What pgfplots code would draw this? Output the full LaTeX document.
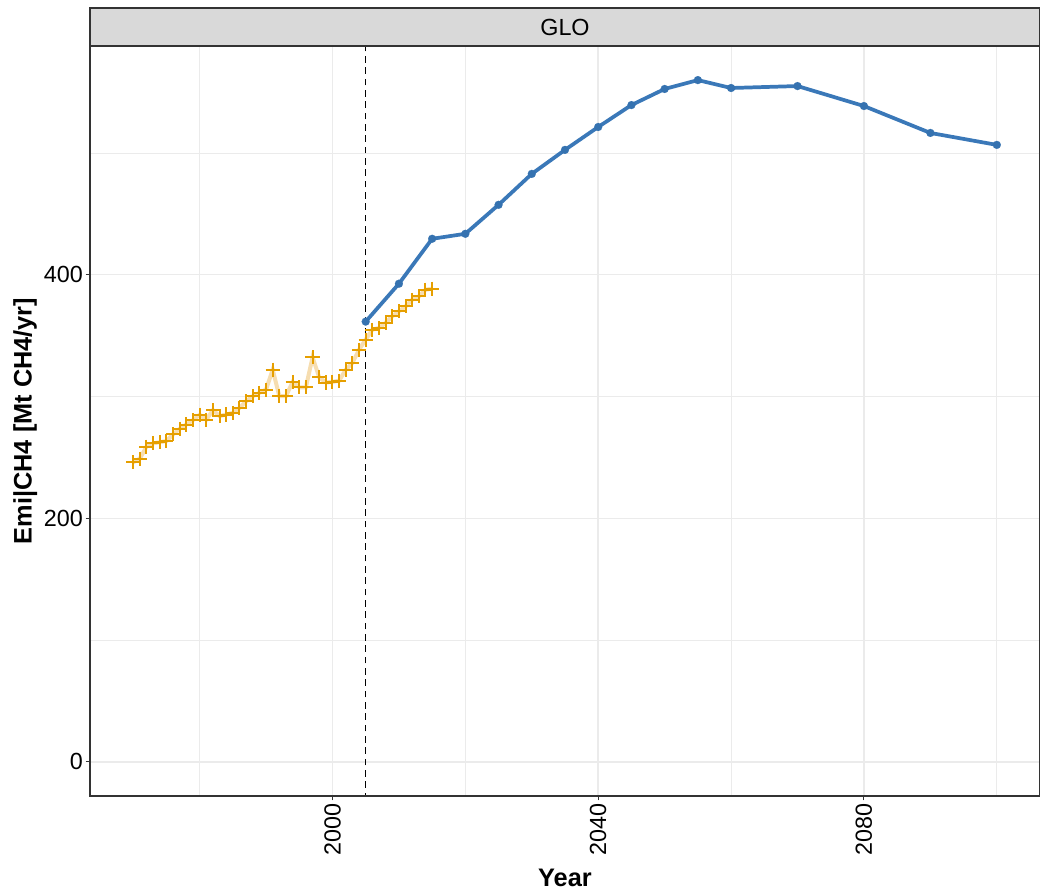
\documentclass[border=0pt]{standalone}
\usepackage{pgfplots}
\pgfplotsset{compat=1.18}
\usepackage{fontspec}
\setmainfont{Liberation Sans}
\definecolor{historange}{HTML}{E69F00}
\definecolor{histfaint}{HTML}{F6DDB0}
\definecolor{modblue}{HTML}{3A78B8}
\definecolor{modpt}{HTML}{3572B0}
\definecolor{gridgray}{HTML}{EBEBEB}
\definecolor{bordergray}{HTML}{333333}
\definecolor{stripgray}{HTML}{D9D9D9}
\begin{document}
\begin{tikzpicture}
\useasboundingbox (-67.5pt,-72pt) rectangle (712.5pt,597pt);
\begin{axis}[
  at={(0,0)}, anchor=south west,
  scale only axis, width=712.5pt, height=562.5pt,
  xmin=1963.5, xmax=2106.5, ymin=-28, ymax=587.8,
  xtick={2000,2040,2080}, minor xtick={1980,2020,2060,2100},
  ytick={0,200,400}, minor ytick={100,300,500},
  grid=both,
  major grid style={gridgray, line width=1.1pt},
  minor grid style={gridgray, line width=0.55pt},
  axis line style={bordergray, line width=0.8pt},
  tick style={bordergray, line width=0.8pt},
  major tick length=3.2pt, minor tick length=0pt,
  tick align=outside, tick pos=left,
  /pgf/number format/assume math mode=true,
  /pgf/number format/1000 sep={},
  ticklabel style={font=\fontsize{17.5}{20}\selectfont, text=black},
  xticklabel style={rotate=90, anchor=east, inner sep=2pt},
  yticklabel style={inner sep=2pt},
  xlabel={\textbf{Year}}, ylabel={\textbf{Emi|CH4 [Mt CH4/yr]}},
  label style={font=\fontsize{19}{22}\selectfont},
  xlabel style={at={(axis description cs:0.5,0)}, anchor=center, yshift=-61.5pt},
  ylabel style={at={(axis description cs:0,0.5)}, anchor=center, yshift=48.5pt},
  clip=true,
]
% historical
\addplot[histfaint, line width=3pt, forget plot] coordinates {
(1970,246) (1971,249) (1972,258.8) (1973,261.5) (1974,262.5) (1975,263.4) (1976,268.9) (1977,273.5) (1978,277) (1979,280.6)
(1980,285) (1981,281) (1982,288.8) (1983,283.9) (1984,285.2) (1985,286.6) (1986,290.7) (1987,296) (1988,300.3) (1989,303)
(1990,305.7) (1991,322) (1992,300.3) (1993,300.3) (1994,312) (1995,307.6) (1996,307.6) (1997,332.2) (1998,315.8) (1999,311.5)
(2000,312) (2001,313) (2002,322) (2003,327.6) (2004,338.5) (2005,346.7) (2006,354.9) (2007,356.3) (2008,360.4) (2009,365.9)
(2010,369.9) (2011,374) (2012,379.5) (2013,382.2) (2014,387.7) (2015,388.5)};
\addplot[only marks, mark=+, mark size=5.3pt, mark options={historange, line width=1.5pt}] coordinates {
(1970,246) (1971,249) (1972,258.8) (1973,261.5) (1974,262.5) (1975,263.4) (1976,268.9) (1977,273.5) (1978,277) (1979,280.6)
(1980,285) (1981,281) (1982,288.8) (1983,283.9) (1984,285.2) (1985,286.6) (1986,290.7) (1987,296) (1988,300.3) (1989,303)
(1990,305.7) (1991,322) (1992,300.3) (1993,300.3) (1994,312) (1995,307.6) (1996,307.6) (1997,332.2) (1998,315.8) (1999,311.5)
(2000,312) (2001,313) (2002,322) (2003,327.6) (2004,338.5) (2005,346.7) (2006,354.9) (2007,356.3) (2008,360.4) (2009,365.9)
(2010,369.9) (2011,374) (2012,379.5) (2013,382.2) (2014,387.7) (2015,388.5)};
% model
\addplot[modblue, line width=2.8pt, mark=*, mark size=3pt, mark options={fill=modpt, draw=modpt, line width=0.1pt}] coordinates {
(2005,361.5) (2010,392.6) (2015,429.5) (2020,433.6) (2025,457.4) (2030,482.8) (2035,502.5) (2040,521.3)
(2045,539.3) (2050,552.5) (2055,559.8) (2060,553.3) (2070,554.9) (2080,538.5) (2090,516.4) (2100,506.6)};
% vertical dashed line
\addplot[black, line width=1.05pt, dash pattern=on 5pt off 3.5pt] coordinates {(2005,-40) (2005,600)};
\end{axis}
% strip
\draw[bordergray, line width=0.8pt, fill=stripgray] (0,562.5pt) rectangle (712.5pt,591pt);
\node[font=\fontsize{17.5}{20}\selectfont] at (356.25pt,576.75pt) {GLO};
\draw[bordergray, line width=0.8pt] (0,0) rectangle (712.5pt,562.5pt);
\end{tikzpicture}
\end{document}
